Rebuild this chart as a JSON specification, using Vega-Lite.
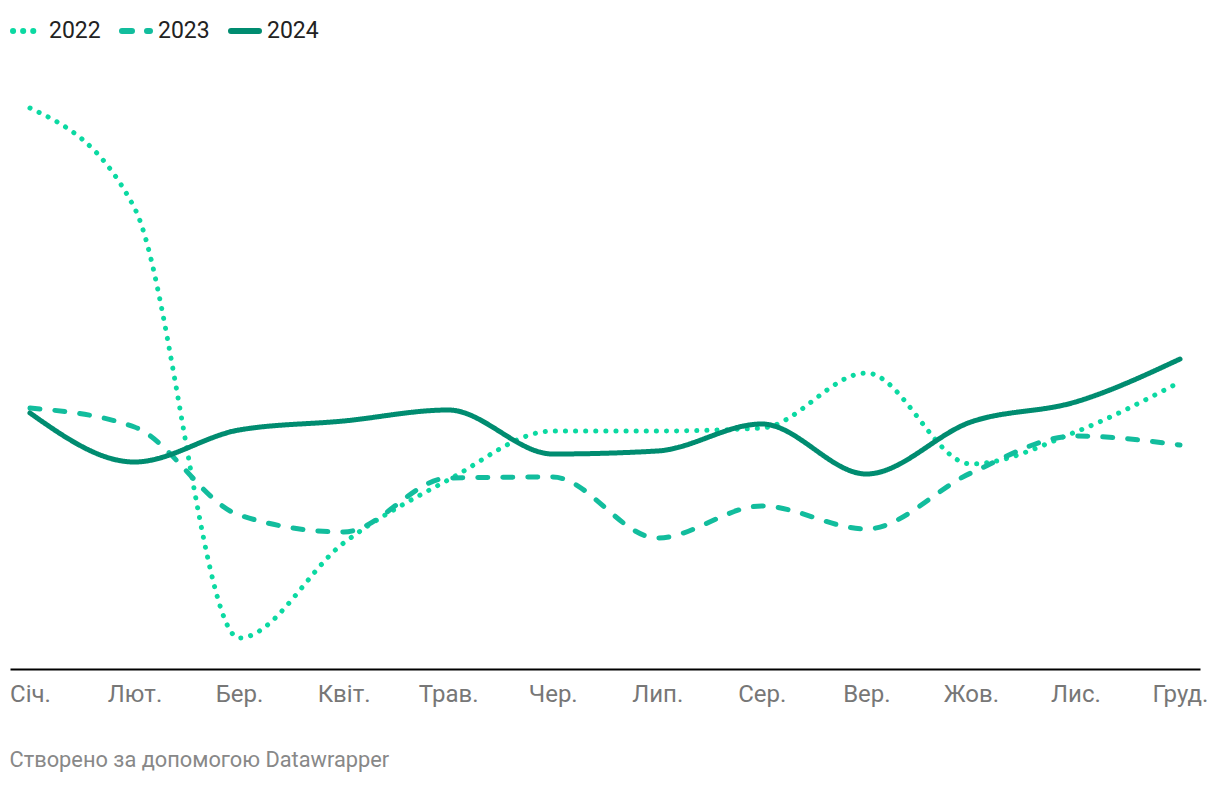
{
  "$schema": "https://vega.github.io/schema/vega-lite/v6.json",
  "autosize": "none",
  "width": 1190,
  "height": 600,
  "padding": {"left": 10, "top": 69, "right": 20, "bottom": 117},
  "background": "white",
  "config": {
    "view": {"stroke": null},
    "font": "Roboto"
  },
  "title": {
    "text": "Створено за допомогою Datawrapper",
    "orient": "bottom",
    "anchor": "start",
    "fontSize": 21.8,
    "fontWeight": "normal",
    "color": "#888888",
    "font": "Roboto",
    "offset": 44
  },
  "data": {
    "values": [
      {"month": "Січ.", "year": "2022", "value": 561},
      {"month": "Лют.", "year": "2022", "value": 461},
      {"month": "Бер.", "year": "2022", "value": 31},
      {"month": "Квіт.", "year": "2022", "value": 126},
      {"month": "Трав.", "year": "2022", "value": 189},
      {"month": "Чер.", "year": "2022", "value": 238},
      {"month": "Лип.", "year": "2022", "value": 238},
      {"month": "Сер.", "year": "2022", "value": 241},
      {"month": "Вер.", "year": "2022", "value": 296},
      {"month": "Жов.", "year": "2022", "value": 205},
      {"month": "Лис.", "year": "2022", "value": 237},
      {"month": "Груд.", "year": "2022", "value": 287},
      {"month": "Січ.", "year": "2023", "value": 261},
      {"month": "Лют.", "year": "2023", "value": 242},
      {"month": "Бер.", "year": "2023", "value": 154},
      {"month": "Квіт.", "year": "2023", "value": 137},
      {"month": "Трав.", "year": "2023", "value": 191},
      {"month": "Чер.", "year": "2023", "value": 192},
      {"month": "Лип.", "year": "2023", "value": 131},
      {"month": "Сер.", "year": "2023", "value": 163},
      {"month": "Вер.", "year": "2023", "value": 140},
      {"month": "Жов.", "year": "2023", "value": 196},
      {"month": "Лис.", "year": "2023", "value": 233},
      {"month": "Груд.", "year": "2023", "value": 224},
      {"month": "Січ.", "year": "2024", "value": 256},
      {"month": "Лют.", "year": "2024", "value": 207},
      {"month": "Бер.", "year": "2024", "value": 239},
      {"month": "Квіт.", "year": "2024", "value": 248},
      {"month": "Трав.", "year": "2024", "value": 259},
      {"month": "Чер.", "year": "2024", "value": 215},
      {"month": "Лип.", "year": "2024", "value": 218},
      {"month": "Сер.", "year": "2024", "value": 245},
      {"month": "Вер.", "year": "2024", "value": 195},
      {"month": "Жов.", "year": "2024", "value": 247},
      {"month": "Лис.", "year": "2024", "value": 267},
      {"month": "Груд.", "year": "2024", "value": 310}
    ]
  },
  "mark": {"type": "line", "interpolate": "monotone", "strokeWidth": 5, "strokeCap": "round", "strokeJoin": "round"},
  "encoding": {
    "x": {
      "field": "month",
      "type": "ordinal",
      "sort": null,
      "scale": {"type": "point", "padding": 0.191},
      "axis": {
        "title": null,
        "labelAngle": 0,
        "labelFontSize": 24,
        "labelColor": "#777777",
        "labelFont": "Roboto",
        "labelPadding": 13,
        "ticks": false,
        "grid": false,
        "domainColor": "#000000",
        "domainWidth": 2
      }
    },
    "y": {
      "field": "value",
      "type": "quantitative",
      "scale": {"domain": [0, 600], "nice": false, "zero": true},
      "axis": null
    },
    "color": {
      "field": "year",
      "type": "nominal",
      "scale": {"domain": ["2022", "2023", "2024"], "range": ["#0bd9a2", "#12bd9d", "#008c70"]},
      "legend": {
        "title": null,
        "orient": "none",
        "direction": "horizontal",
        "legendX": 0,
        "legendY": -55,
        "symbolType": "stroke",
        "symbolStrokeWidth": 6,
        "symbolSize": 784,
        "labelFontSize": 23,
        "labelColor": "#222222",
        "labelFont": "Roboto",
        "labelOffset": 5,
        "columnPadding": 9,
        "encode": {"symbols": {"update": {"strokeCap": {"value": "round"}}}}
      }
    },
    "strokeDash": {
      "field": "year",
      "type": "nominal",
      "scale": {"domain": ["2022", "2023", "2024"], "range": [[0.1, 10], [10, 15], [1, 0]]},
      "legend": {
        "title": null,
        "orient": "none",
        "direction": "horizontal",
        "legendX": 0,
        "legendY": -55,
        "symbolType": "stroke",
        "symbolStrokeWidth": 6,
        "symbolSize": 784,
        "labelFontSize": 23,
        "labelColor": "#222222",
        "labelFont": "Roboto",
        "labelOffset": 5,
        "columnPadding": 9,
        "encode": {"symbols": {"update": {"strokeCap": {"value": "round"}}}}
      }
    }
  }
}
